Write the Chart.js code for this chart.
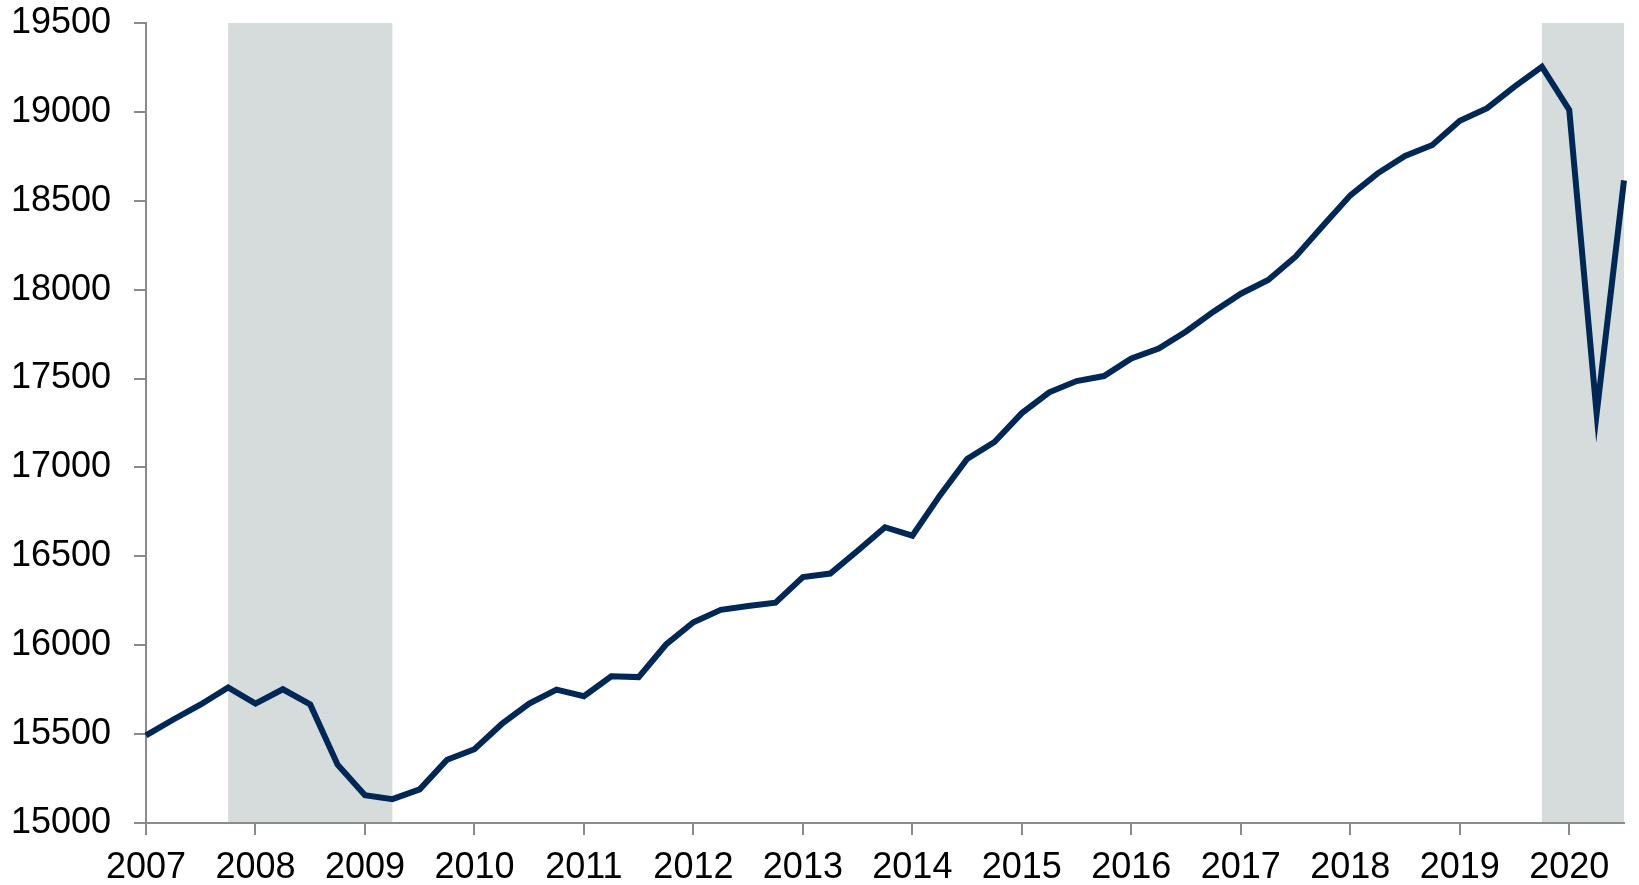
<!DOCTYPE html>
<html lang="en">
<head>
  <meta charset="UTF-8">
  <title>Real GDP</title>
  <style>
    html, body {
      margin: 0;
      padding: 0;
      background: #fff;
    }
    .chart-box {
      width: 1639px;
      height: 885px;
    }
  </style>
</head>
<body>
  <div class="chart-box">
    <canvas id="gdpChart"></canvas>
  </div>

  <script src="https://cdn.jsdelivr.net/npm/chart.js"></script>
  <script>
    // quarters on the x axis
    const quarters = [
      '2007Q1', '2007Q2', '2007Q3', '2007Q4',
      '2008Q1', '2008Q2', '2008Q3', '2008Q4',
      '2009Q1', '2009Q2', '2009Q3', '2009Q4',
      '2010Q1', '2010Q2', '2010Q3', '2010Q4',
      '2011Q1', '2011Q2', '2011Q3', '2011Q4',
      '2012Q1', '2012Q2', '2012Q3', '2012Q4',
      '2013Q1', '2013Q2', '2013Q3', '2013Q4',
      '2014Q1', '2014Q2', '2014Q3', '2014Q4',
      '2015Q1', '2015Q2', '2015Q3', '2015Q4',
      '2016Q1', '2016Q2', '2016Q3', '2016Q4',
      '2017Q1', '2017Q2', '2017Q3', '2017Q4',
      '2018Q1', '2018Q2', '2018Q3', '2018Q4',
      '2019Q1', '2019Q2', '2019Q3', '2019Q4',
      '2020Q1', '2020Q2', '2020Q3'
    ];

    // real GDP, one value per quarter
    const gdp = [
      15493.3, 15582.1, 15666.7, 15762.0,
      15671.4, 15752.3, 15667.0, 15328.0,
      15155.9, 15134.1, 15189.2, 15356.1,
      15415.1, 15557.3, 15672.0, 15750.6,
      15712.8, 15825.1, 15820.7, 16004.1,
      16129.4, 16198.8, 16220.7, 16239.1,
      16383.0, 16403.2, 16531.7, 16663.6,
      16616.5, 16841.5, 17047.1, 17143.0,
      17305.8, 17422.8, 17486.0, 17514.1,
      17613.3, 17668.2, 17764.4, 17876.2,
      17977.3, 18054.1, 18185.6, 18359.4,
      18530.5, 18654.4, 18752.4, 18813.9,
      18950.3, 19020.6, 19141.7, 19254.0,
      19010.8, 17302.5, 18615.0
    ];

    // shaded recession periods (start, end quarter)
    const recessionStarts = ['2007Q4', '2019Q4'];
    const recessionEnds = ['2009Q2', '2020Q3'];

    const axisGrey = '#8a8a8a';
    const tickFont = { family: '"Liberation Sans", Arial, sans-serif', size: 36 };

    // draws the grey recession bands behind everything
    const recessionBands = {
      id: 'recessionBands',
      beforeDraw(chart) {
        const { ctx, chartArea, scales } = chart;
        ctx.save();
        ctx.fillStyle = '#d6dcdc';
        for (let i = 0; i < recessionStarts.length; i++) {
          const x1 = scales.x.getPixelForValue(quarters.indexOf(recessionStarts[i]));
          const x2 = scales.x.getPixelForValue(quarters.indexOf(recessionEnds[i]));
          ctx.fillRect(x1, chartArea.top, x2 - x1, chartArea.bottom - chartArea.top);
        }
        ctx.restore();
      },
      beforeDatasetsDraw(chart) {
        // keep the sharp point of the 2020 dip
        chart.ctx.miterLimit = 30;
      }
    };

    new Chart(document.getElementById('gdpChart'), {
      type: 'line',
      data: {
        labels: quarters,
        datasets: [{
          data: gdp,
          borderColor: '#002856',
          borderWidth: 6,
          borderJoinStyle: 'miter',
          pointRadius: 0,
          tension: 0,
          fill: false
        }]
      },
      options: {
        responsive: true,
        maintainAspectRatio: false,
        animation: false,
        layout: { padding: { top: 0, right: 15, left: 0, bottom: 0 } },
        plugins: {
          legend: { display: false },
          tooltip: { enabled: false }
        },
        scales: {
          x: {
            type: 'category',
            offset: false,
            border: { display: true, color: axisGrey, width: 2 },
            grid: {
              drawOnChartArea: false,
              drawTicks: true,
              tickLength: 12,
              color: axisGrey,
              lineWidth: 2
            },
            ticks: {
              autoSkip: false,
              maxRotation: 0,
              color: '#000',
              font: tickFont,
              padding: 11,
              callback(value) {
                const q = quarters[value];
                return q.endsWith('Q1') ? q.slice(0, 4) : null;
              }
            },
            afterFit(scale) { scale.height = 62; }
          },
          y: {
            min: 15000,
            max: 19500,
            border: { display: true, color: axisGrey, width: 2 },
            grid: {
              drawOnChartArea: false,
              drawTicks: true,
              tickLength: 12,
              color: axisGrey,
              lineWidth: 2
            },
            ticks: {
              stepSize: 500,
              color: '#000',
              font: tickFont,
              padding: 23,
              callback: v => String(v)
            },
            afterFit(scale) {
              scale.width = 146;
              scale.paddingTop = 23;
              scale.paddingBottom = 0;
            }
          }
        }
      },
      plugins: [recessionBands]
    });
  </script>
</body>
</html>
